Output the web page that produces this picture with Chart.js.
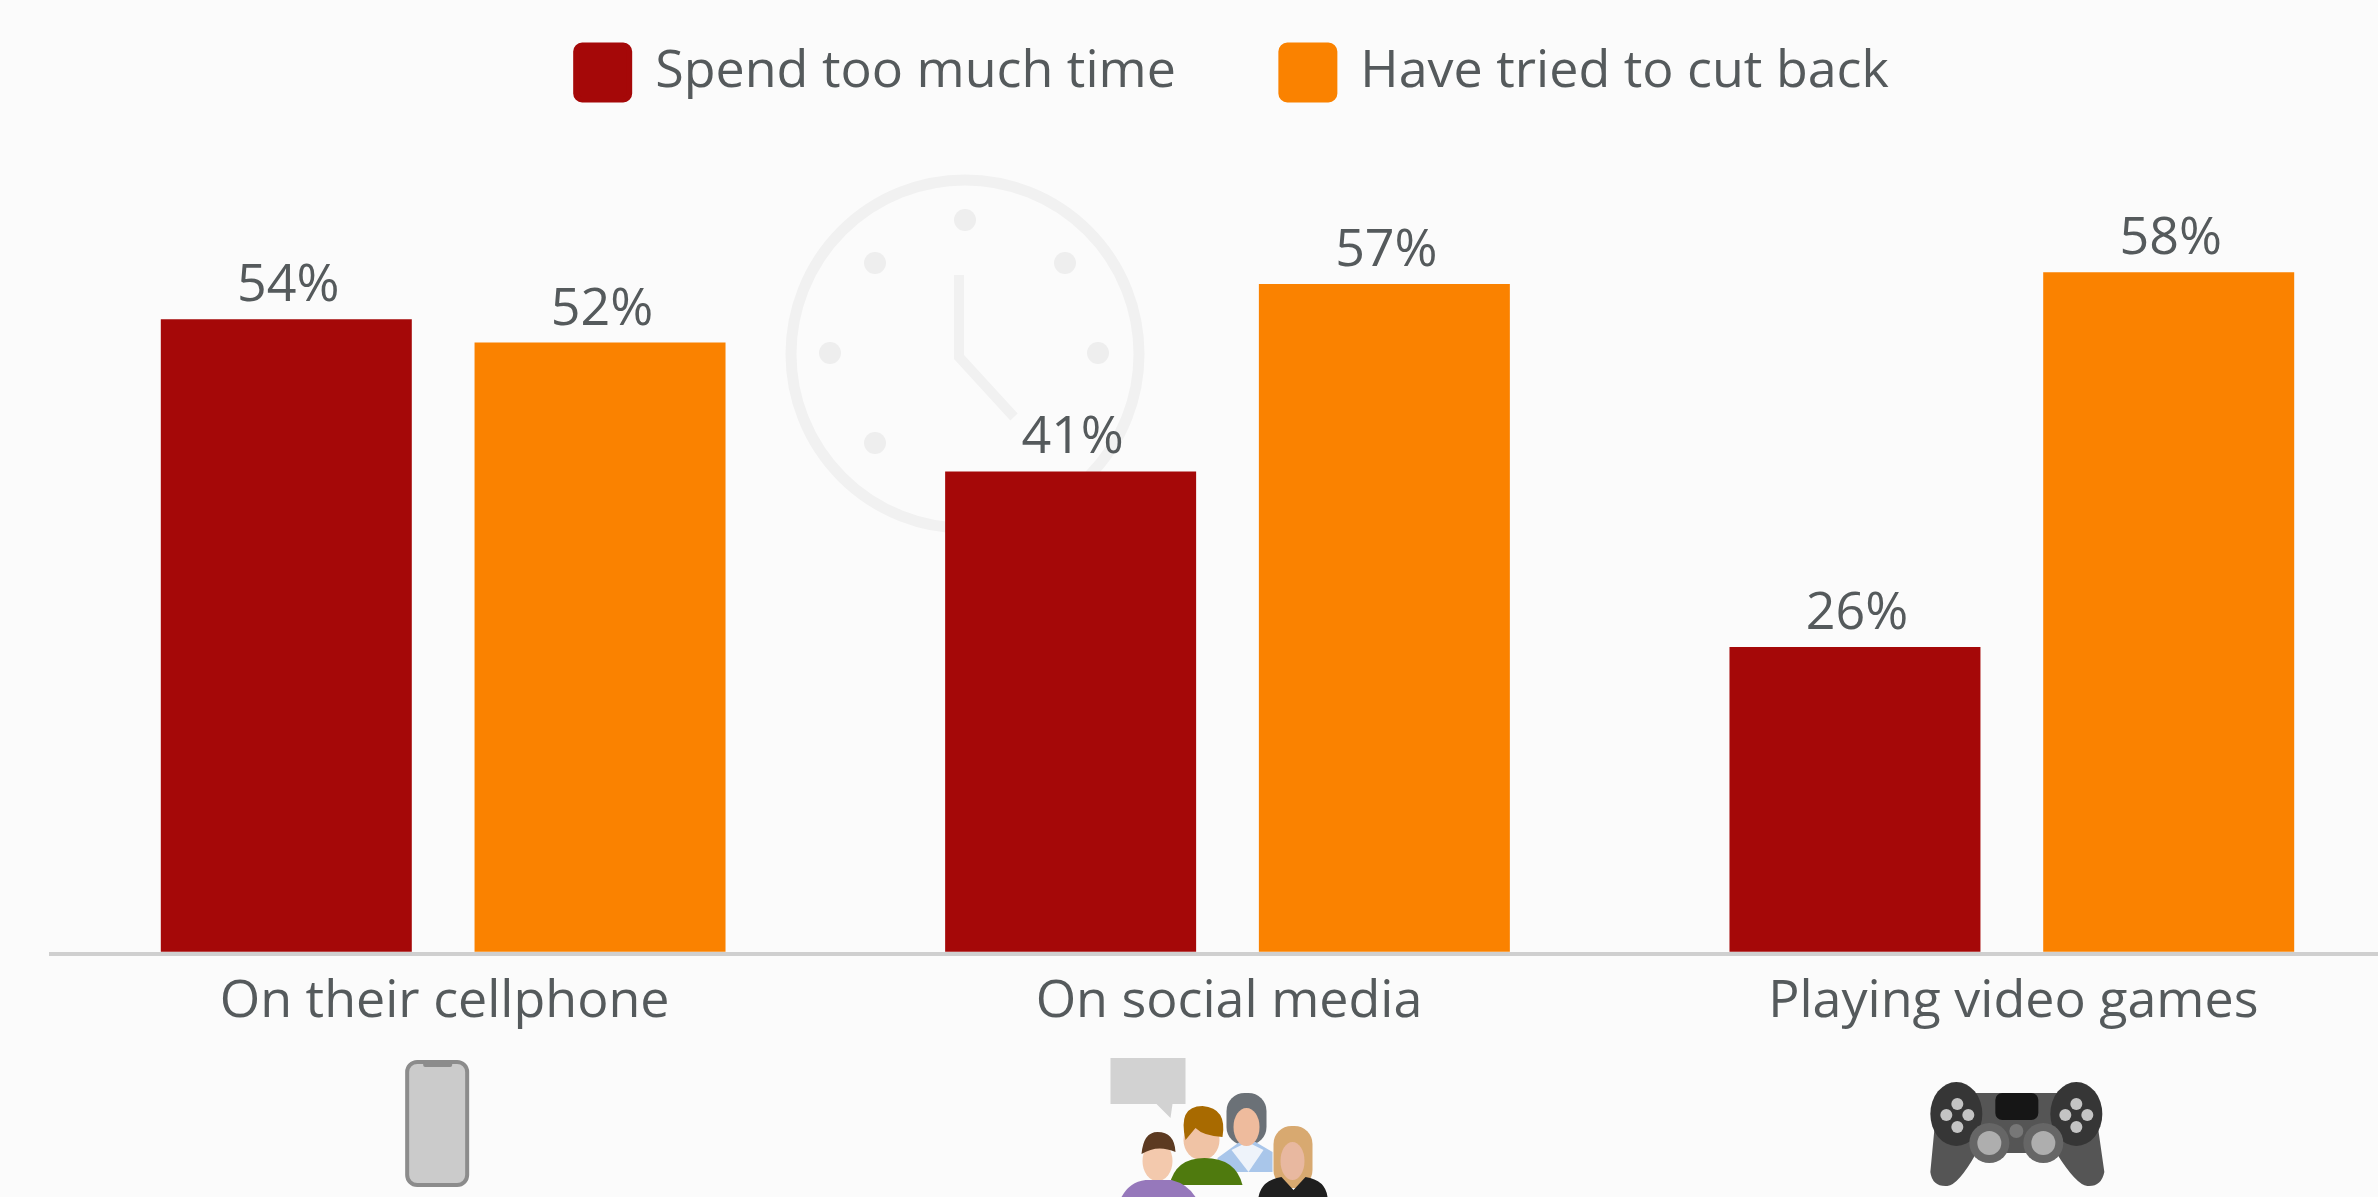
<!DOCTYPE html>
<html>
<head>
<meta charset="utf-8">
<title>Time spent on screens</title>
<script src="https://cdn.jsdelivr.net/npm/chart.js@4"></script>
<style>
  html, body { margin: 0; padding: 0; background: #fbfbfb; overflow: hidden; }
  #frame { position: relative; width: 2378px; height: 1197px; overflow: hidden; }
  #frame canvas { position: absolute; left: 0; top: 0; }
</style>
</head>
<body>
<div id="frame"><canvas id="chart" width="2404" height="1197"></canvas></div>
<script>
const categories = ["On their cellphone", "On social media", "Playing video games"];
const seriesNames = ["Spend too much time", "Have tried to cut back"];
const spendTooMuch = [54, 41, 26];
const triedToCutBack = [52, 57, 58];
const seriesColors = ["#a50808", "#fa8200"];
const textColor = "#555a5c";
const fontFamily = "'Open Sans', sans-serif";

// Faint clock face behind the bars
const clockBackdrop = {
  id: "clockBackdrop",
  beforeDatasetsDraw(chart) {
    const c = chart.ctx;
    c.save();
    c.strokeStyle = "#f1f1f1";
    c.fillStyle = "#eeeeee";
    c.lineWidth = 11;
    c.beginPath();
    c.arc(965, 354, 174, 0, Math.PI * 2);
    c.stroke();
    [[965, 220], [1065, 263], [1098, 353], [830, 353], [875, 263], [875, 443]].forEach(([x, y]) => {
      c.beginPath();
      c.arc(x, y, 11, 0, Math.PI * 2);
      c.fill();
    });
    c.lineWidth = 10;
    c.beginPath();
    c.moveTo(959, 275);
    c.lineTo(959, 357);
    c.lineTo(1014, 417);
    c.stroke();
    c.restore();
  }
};

// Percentage printed above each bar
const valueLabels = {
  id: "valueLabels",
  afterDatasetsDraw(chart) {
    const c = chart.ctx;
    c.save();
    c.font = "52px " + fontFamily;
    c.fillStyle = textColor;
    c.textAlign = "center";
    c.textBaseline = "alphabetic";
    chart.data.datasets.forEach((ds, i) => {
      chart.getDatasetMeta(i).data.forEach((bar, j) => {
        c.fillText(ds.data[j] + "%", bar.x + 2, bar.y - 18);
      });
    });
    c.restore();
  }
};

// Nudges the centred legend row to the right of the plot centre
const legendShift = {
  id: "legendShift",
  afterLayout(chart) {
    chart.legend.left += 5;
    chart.legend.right += 5;
  }
};

function roundRect(c, x, y, w, h, r) {
  c.beginPath();
  c.roundRect(x, y, w, h, r);
}

function disc(c, x, y, r) {
  c.beginPath();
  c.arc(x, y, r, 0, Math.PI * 2);
  c.fill();
}

// Small pictograms under the category labels, anchored to the category centres
const categoryIcons = {
  id: "categoryIcons",
  afterDraw(chart) {
    const c = chart.ctx;
    const xs = chart.scales.x;
    c.save();

    // Phone
    let cx = xs.getPixelForValue(0);
    c.translate(cx, 0);
    c.fillStyle = "#cbcbcb";
    c.strokeStyle = "#8c8c8c";
    c.lineWidth = 4;
    roundRect(c, -36, 1062, 60, 123, 10);
    c.fill();
    c.stroke();
    c.fillStyle = "#8c8c8c";
    roundRect(c, -20, 1062, 29, 5, 2);
    c.fill();
    c.translate(-cx, 0);

    // Group of people with a speech bubble
    cx = xs.getPixelForValue(1);
    c.translate(cx - 1228, 0);
    c.fillStyle = "#d2d2d2";
    c.beginPath();
    c.moveTo(1111, 1058);
    c.lineTo(1186, 1058);
    c.lineTo(1186, 1104);
    c.lineTo(1173, 1104);
    c.lineTo(1171, 1118);
    c.lineTo(1157, 1104);
    c.lineTo(1111, 1104);
    c.closePath();
    c.fill();
    // woman in blue, back row
    c.fillStyle = "#6b7177";
    roundRect(c, 1227, 1093, 40, 52, 18);
    c.fill();
    c.fillStyle = "#a9c6ea";
    c.beginPath();
    c.moveTo(1218, 1158);
    c.lineTo(1240, 1142);
    c.lineTo(1256, 1142);
    c.lineTo(1273, 1152);
    c.lineTo(1273, 1172);
    c.lineTo(1218, 1172);
    c.closePath();
    c.fill();
    c.fillStyle = "#eef3fa";
    c.beginPath();
    c.moveTo(1232, 1150);
    c.lineTo(1248, 1142);
    c.lineTo(1264, 1150);
    c.lineTo(1249, 1172);
    c.closePath();
    c.fill();
    c.fillStyle = "#eebb9d";
    c.beginPath();
    c.ellipse(1247, 1127, 13, 19, 0, 0, Math.PI * 2);
    c.fill();
    // man in green
    c.fillStyle = "#f0c3a5";
    c.beginPath();
    c.ellipse(1202, 1140, 18, 20, 0, 0, Math.PI * 2);
    c.fill();
    c.fillStyle = "#4f7a0e";
    c.beginPath();
    c.moveTo(1170, 1185);
    c.quadraticCurveTo(1176, 1158, 1205, 1158);
    c.quadraticCurveTo(1236, 1158, 1243, 1185);
    c.closePath();
    c.fill();
    c.fillStyle = "#a86a00";
    c.beginPath();
    c.moveTo(1186, 1140);
    c.quadraticCurveTo(1178, 1106, 1203, 1106);
    c.quadraticCurveTo(1228, 1108, 1223, 1137);
    c.quadraticCurveTo(1204, 1136, 1196, 1128);
    c.closePath();
    c.fill();
    // man in purple
    c.fillStyle = "#f3c9ad";
    c.beginPath();
    c.ellipse(1158, 1161, 15, 20, 0, 0, Math.PI * 2);
    c.fill();
    c.fillStyle = "#5c3a21";
    c.beginPath();
    c.moveTo(1142, 1154);
    c.quadraticCurveTo(1144, 1132, 1158, 1132);
    c.quadraticCurveTo(1175, 1132, 1176, 1152);
    c.quadraticCurveTo(1158, 1144, 1142, 1154);
    c.closePath();
    c.fill();
    c.fillStyle = "#9678bb";
    c.beginPath();
    c.moveTo(1122, 1197);
    c.quadraticCurveTo(1130, 1182, 1146, 1180);
    c.lineTo(1172, 1180);
    c.quadraticCurveTo(1188, 1184, 1196, 1197);
    c.closePath();
    c.fill();
    // woman in black
    c.fillStyle = "#d8a970";
    roundRect(c, 1274, 1126, 39, 62, 18);
    c.fill();
    c.fillStyle = "#e8b8a0";
    c.beginPath();
    c.ellipse(1293, 1161, 12, 19, 0, 0, Math.PI * 2);
    c.fill();
    c.fillStyle = "#1f1f1f";
    c.beginPath();
    c.moveTo(1259, 1197);
    c.quadraticCurveTo(1262, 1180, 1282, 1177);
    c.lineTo(1294, 1190);
    c.lineTo(1306, 1177);
    c.quadraticCurveTo(1326, 1180, 1328, 1197);
    c.closePath();
    c.fill();
    c.translate(1228 - cx, 0);

    // Game controller
    cx = xs.getPixelForValue(2);
    c.translate(cx - 2011.5, 0);
    c.fillStyle = "#555555";
    c.beginPath();
    c.moveTo(1970, 1093);
    c.lineTo(2062, 1093);
    c.lineTo(2098, 1130);
    c.lineTo(2104, 1172);
    c.quadraticCurveTo(2101, 1187, 2087, 1186);
    c.quadraticCurveTo(2076, 1185, 2056, 1153);
    c.lineTo(1976, 1153);
    c.quadraticCurveTo(1958, 1185, 1947, 1186);
    c.quadraticCurveTo(1932, 1187, 1930, 1172);
    c.lineTo(1934, 1130);
    c.closePath();
    c.fill();
    c.fillStyle = "#363636";
    [1956, 2076].forEach((x) => {
      c.beginPath();
      c.ellipse(x, 1114, 26, 32, 0, 0, Math.PI * 2);
      c.fill();
    });
    c.fillStyle = "#161616";
    roundRect(c, 1995, 1093, 43, 27, 7);
    c.fill();
    c.fillStyle = "#666666";
    disc(c, 1989, 1143, 20);
    disc(c, 2043, 1143, 20);
    c.fillStyle = "#aeaeae";
    disc(c, 1989, 1143, 12);
    disc(c, 2043, 1143, 12);
    c.fillStyle = "#777777";
    disc(c, 2016, 1131, 7);
    c.fillStyle = "#c4c4c4";
    [[1957, 1104], [1957, 1127], [1946, 1115], [1968, 1115], [2076, 1104], [2076, 1127], [2065, 1115], [2087, 1115]].forEach(([x, y]) => {
      disc(c, x, y, 6);
    });
    c.restore();
  }
};

new Chart(document.getElementById("chart"), {
  type: "bar",
  data: {
    labels: categories,
    datasets: [
      { label: seriesNames[0], data: spendTooMuch, backgroundColor: seriesColors[0] },
      { label: seriesNames[1], data: triedToCutBack, backgroundColor: seriesColors[1] }
    ]
  },
  options: {
    responsive: false,
    animation: false,
    devicePixelRatio: 1,
    layout: { padding: { left: 51, right: 0, top: -60, bottom: 0 } },
    datasets: { bar: { categoryPercentage: 0.8, barPercentage: 0.8 } },
    plugins: {
      tooltip: { enabled: false },
      legend: {
        position: "top",
        labels: {
          boxWidth: 53,
          boxHeight: 54,
          padding: 105.5,
          useBorderRadius: true,
          borderRadius: 6,
          color: textColor,
          font: { family: fontFamily, size: 52 },
          // a same-coloured outline brings the swatches to their full size
          generateLabels(chart) {
            return Chart.defaults.plugins.legend.labels.generateLabels(chart).map((item, i) => ({
              ...item,
              strokeStyle: seriesColors[i],
              lineWidth: 6
            }));
          }
        }
      }
    },
    scales: {
      y: { display: false, min: -0.2, max: 71.9 },
      x: {
        grid: { display: false, drawTicks: false },
        border: { color: "#cfcfcf", width: 4 },
        ticks: {
          color: textColor,
          padding: 17,
          labelOffset: 1.5,
          maxRotation: 0,
          font: { family: fontFamily, size: 52 }
        },
        afterFit(scale) { scale.height = 243; }
      }
    }
  },
  plugins: [clockBackdrop, valueLabels, legendShift, categoryIcons]
});
</script>
</body>
</html>
